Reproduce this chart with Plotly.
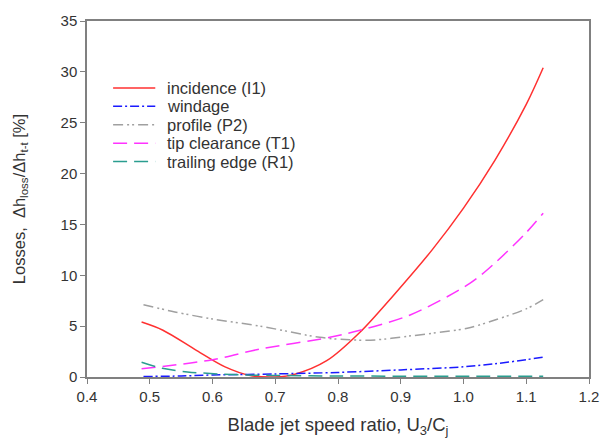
import plotly.graph_objects as go

# Incidence (I1)
x_inc = [0.487, 0.521, 0.575, 0.62, 0.66, 0.70, 0.73, 0.782, 0.835, 0.888, 0.95, 1.00, 1.05, 1.10, 1.127]
y_inc = [5.4, 4.6, 2.6, 1.0, 0.15, 0.0, 0.25, 1.6, 4.4, 8.0, 12.5, 16.6, 21.3, 26.8, 30.4]

# Windage
x_win = [0.49, 0.55, 0.60, 0.70, 0.80, 0.90, 1.00, 1.05, 1.10, 1.127]
y_win = [0.05, 0.1, 0.2, 0.3, 0.45, 0.7, 1.0, 1.3, 1.7, 1.95]

# Profile (P2)
x_pro = [0.49, 0.54, 0.60, 0.676, 0.771, 0.819, 0.86, 0.91, 0.95, 1.006, 1.05, 1.10, 1.127]
y_pro = [7.1, 6.4, 5.7, 5.0, 3.9, 3.65, 3.65, 4.0, 4.3, 4.8, 5.6, 6.7, 7.6]

# Tip clearance (T1)
x_tip = [0.487, 0.60, 0.676, 0.787, 0.835, 0.915, 1.01, 1.05, 1.10, 1.127]
y_tip = [0.8, 1.7, 2.75, 3.9, 4.6, 6.1, 9.2, 11.2, 14.2, 16.1]

# Trailing edge (R1)
x_te = [0.487, 0.52, 0.56, 0.61, 0.65, 0.70, 0.80, 0.90, 1.00, 1.127]
y_te = [1.45, 0.85, 0.5, 0.3, 0.2, 0.15, 0.1, 0.08, 0.08, 0.08]

series_names = ["incidence (I1)", "windage", "profile (P2)", "tip clearance (T1)", "trailing edge (R1)"]
series_x = [x_inc, x_win, x_pro, x_tip, x_te]
series_y = [y_inc, y_win, y_pro, y_tip, y_te]
colors = ["#ff3030", "#1a1aff", "#a0a0a0", "#ff33ff", "#2a9d8f"]
dashes = ["solid", "9px,3px,2px,3px", "10px,4px,2px,3px,2px,4px", "14px,7px", "14px,7px"]

fig = go.Figure()
for name, xs, ys, c, d in zip(series_names, series_x, series_y, colors, dashes):
    fig.add_trace(go.Scatter(x=xs, y=ys, mode="lines", name=name, showlegend=False,
                             line=dict(color=c, width=1.5, shape="spline", smoothing=0.9, dash=d)))

# Manual legend (line samples + labels) in paper coordinates
leg_x0, leg_x1, leg_tx = 0.052, 0.136, 0.155
leg_y_top, leg_dy = 0.812, 0.0517
for i, (name, c, d) in enumerate(zip(series_names, colors, dashes)):
    yy = leg_y_top - i * leg_dy
    fig.add_shape(type="line", xref="paper", yref="paper", x0=leg_x0, x1=leg_x1, y0=yy, y1=yy,
                  line=dict(color=c, width=1.5, dash=d))
    fig.add_annotation(xref="paper", yref="paper", x=leg_tx, y=yy, text=name, showarrow=False,
                       xanchor="left", yanchor="middle", font=dict(size=16.5, color="#333333"))

axis_common = dict(showline=True, linecolor="#808080", linewidth=1.5, mirror=True,
                   ticks="outside", ticklen=5, tickcolor="#808080", showgrid=False,
                   zeroline=False, tickfont=dict(size=15, color="#333333"))

fig.update_layout(
    width=615, height=447,
    margin=dict(l=87, r=26, t=15, b=70),
    paper_bgcolor="white", plot_bgcolor="white",
    font=dict(family="Liberation Sans, Arial, sans-serif", color="#333333"),
    xaxis=dict(range=[0.4, 1.2], dtick=0.1, tickformat=".1f",
               title=dict(text="Blade jet speed ratio, U<sub>3</sub>/C<sub>j</sub>", font=dict(size=18.5), standoff=14),
               **axis_common),
    yaxis=dict(range=[0, 35], dtick=5,
               title=dict(text="Losses,  Δh<sub>loss</sub>/Δh<sub>t-t</sub> [%]", font=dict(size=16.5), standoff=31),
               **axis_common),
    showlegend=False,
)

fig.write_html("out.html")
